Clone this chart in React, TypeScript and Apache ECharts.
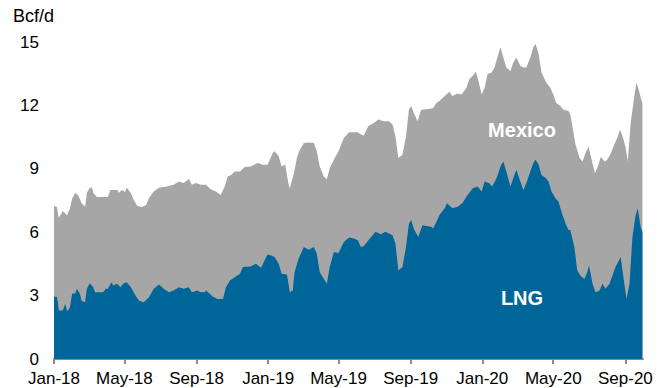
import React, { useEffect, useRef } from "react";
import * as echarts from "echarts";

// Total pipeline exports to Mexico + LNG feedgas (top of gray area), Bcf/d
const totalExports: [string, number][] = [
  ["2018-01-01", 7.24], ["2018-01-06", 7.2], ["2018-01-09", 6.67], ["2018-01-16", 7.0],
  ["2018-01-23", 6.8], ["2018-01-28", 7.1], ["2018-02-01", 7.6], ["2018-02-06", 7.86],
  ["2018-02-11", 7.76], ["2018-02-17", 7.38], ["2018-02-23", 7.2], ["2018-02-26", 7.86],
  ["2018-03-03", 8.1], ["2018-03-07", 8.1], ["2018-03-09", 7.86], ["2018-03-15", 7.67],
  ["2018-04-03", 7.67], ["2018-04-07", 8.0], ["2018-04-19", 8.0], ["2018-04-21", 7.87],
  ["2018-04-27", 8.0], ["2018-05-02", 7.9], ["2018-05-05", 8.1], ["2018-05-12", 7.86],
  ["2018-05-17", 7.52], ["2018-05-23", 7.24], ["2018-05-31", 7.19], ["2018-06-07", 7.29],
  ["2018-06-12", 7.62], ["2018-06-20", 7.92], ["2018-06-29", 8.1], ["2018-07-12", 8.16],
  ["2018-07-24", 8.24], ["2018-08-02", 8.4], ["2018-08-10", 8.33], ["2018-08-19", 8.52],
  ["2018-08-24", 8.24], ["2018-08-31", 8.33], ["2018-09-08", 8.24], ["2018-09-17", 8.24],
  ["2018-09-20", 8.16], ["2018-09-25", 8.03], ["2018-10-04", 7.92], ["2018-10-12", 7.76],
  ["2018-10-19", 8.16], ["2018-10-24", 8.63], ["2018-10-30", 8.71], ["2018-11-05", 8.87],
  ["2018-11-14", 8.87], ["2018-11-22", 9.08], ["2018-12-02", 9.11], ["2018-12-14", 9.27],
  ["2018-12-23", 9.19], ["2018-12-31", 9.19], ["2019-01-04", 9.43], ["2019-01-09", 9.76],
  ["2019-01-12", 9.83], ["2019-01-19", 9.59], ["2019-01-24", 9.11], ["2019-01-30", 9.19],
  ["2019-02-05", 8.24], ["2019-02-07", 8.08], ["2019-02-14", 8.79], ["2019-02-19", 9.51],
  ["2019-02-24", 9.9], ["2019-03-03", 10.22], ["2019-03-11", 10.25], ["2019-03-20", 10.22],
  ["2019-03-25", 9.83], ["2019-03-30", 9.11], ["2019-04-06", 8.63], ["2019-04-11", 8.51],
  ["2019-04-16", 9.03], ["2019-04-23", 9.43], ["2019-05-01", 9.83], ["2019-05-10", 10.46],
  ["2019-05-19", 10.73], ["2019-06-03", 10.73], ["2019-06-08", 10.62], ["2019-06-13", 10.57],
  ["2019-06-21", 11.02], ["2019-06-30", 11.17], ["2019-07-08", 11.33], ["2019-07-17", 11.25],
  ["2019-07-26", 11.25], ["2019-08-01", 11.1], ["2019-08-06", 10.54], ["2019-08-11", 9.51],
  ["2019-08-18", 9.67], ["2019-08-24", 10.54], ["2019-08-29", 11.81], ["2019-09-02", 11.97],
  ["2019-09-06", 11.65], ["2019-09-13", 11.25], ["2019-09-18", 11.73], ["2019-09-21", 11.81],
  ["2019-09-25", 11.81], ["2019-10-09", 11.86], ["2019-10-15", 12.13], ["2019-10-20", 12.21],
  ["2019-10-29", 12.44], ["2019-11-06", 12.65], ["2019-11-11", 12.44], ["2019-11-20", 12.56],
  ["2019-11-27", 12.52], ["2019-12-05", 12.84], ["2019-12-10", 13.24], ["2019-12-16", 13.4],
  ["2019-12-21", 13.6], ["2019-12-24", 13.32], ["2019-12-31", 12.52], ["2020-01-05", 12.84],
  ["2020-01-10", 13.48], ["2020-01-17", 13.56], ["2020-01-22", 13.79], ["2020-01-26", 14.19],
  ["2020-02-01", 14.75], ["2020-02-06", 14.27], ["2020-02-11", 13.79], ["2020-02-18", 13.63],
  ["2020-02-23", 14.03], ["2020-02-28", 14.27], ["2020-03-06", 13.87], ["2020-03-11", 13.79],
  ["2020-03-16", 13.79], ["2020-03-23", 14.27], ["2020-03-28", 14.75], ["2020-04-01", 14.9],
  ["2020-04-06", 14.43], ["2020-04-11", 13.56], ["2020-04-19", 13.08], ["2020-04-26", 12.84],
  ["2020-05-01", 12.52], ["2020-05-06", 12.13], ["2020-05-13", 11.97], ["2020-05-18", 11.81],
  ["2020-05-27", 11.73], ["2020-05-30", 11.57], ["2020-06-03", 10.94], ["2020-06-08", 10.14],
  ["2020-06-15", 9.51], ["2020-06-20", 9.35], ["2020-06-25", 9.75], ["2020-06-30", 10.03],
  ["2020-07-04", 9.59], ["2020-07-11", 8.79], ["2020-07-16", 9.11], ["2020-07-21", 9.56],
  ["2020-07-28", 9.35], ["2020-08-01", 9.43], ["2020-08-06", 9.67], ["2020-08-13", 10.14],
  ["2020-08-18", 10.46], ["2020-08-23", 10.86], ["2020-08-28", 10.46], ["2020-09-01", 10.06],
  ["2020-09-05", 9.35], ["2020-09-10", 11.17], ["2020-09-17", 12.6], ["2020-09-20", 13.08],
  ["2020-09-25", 12.6], ["2020-09-30", 12.1],
];

// LNG feedgas (blue area), Bcf/d
const lngFeedgas: [string, number][] = [
  ["2018-01-01", 2.95], ["2018-01-06", 2.95], ["2018-01-08", 2.6], ["2018-01-09", 2.29],
  ["2018-01-16", 2.29], ["2018-01-20", 2.6], ["2018-01-23", 2.29], ["2018-01-25", 2.29],
  ["2018-01-28", 2.44], ["2018-02-01", 3.1], ["2018-02-06", 3.1], ["2018-02-09", 3.33],
  ["2018-02-14", 3.1], ["2018-02-17", 2.76], ["2018-02-23", 2.68], ["2018-02-26", 3.33],
  ["2018-03-03", 3.59], ["2018-03-09", 3.4], ["2018-03-12", 3.16], ["2018-03-26", 3.16],
  ["2018-03-30", 3.33], ["2018-04-03", 3.33], ["2018-04-09", 3.63], ["2018-04-12", 3.48],
  ["2018-04-19", 3.56], ["2018-04-24", 3.4], ["2018-04-30", 3.59], ["2018-05-05", 3.63],
  ["2018-05-12", 3.4], ["2018-05-20", 3.0], ["2018-05-26", 2.76], ["2018-06-03", 2.68],
  ["2018-06-12", 2.92], ["2018-06-20", 3.33], ["2018-06-29", 3.52], ["2018-07-07", 3.33],
  ["2018-07-16", 3.16], ["2018-07-24", 3.24], ["2018-08-02", 3.4], ["2018-08-10", 3.33],
  ["2018-08-19", 3.4], ["2018-08-24", 3.16], ["2018-09-02", 3.24], ["2018-09-08", 3.16],
  ["2018-09-15", 3.16], ["2018-09-17", 3.24], ["2018-09-24", 3.08], ["2018-09-29", 2.95],
  ["2018-10-07", 2.84], ["2018-10-16", 2.84], ["2018-10-21", 3.4], ["2018-10-28", 3.71],
  ["2018-11-05", 3.87], ["2018-11-14", 4.03], ["2018-11-19", 4.35], ["2018-12-02", 4.38],
  ["2018-12-11", 4.51], ["2018-12-20", 4.32], ["2018-12-26", 4.67], ["2018-12-31", 4.95],
  ["2019-01-06", 4.9], ["2019-01-12", 4.83], ["2019-01-19", 4.51], ["2019-01-24", 4.03],
  ["2019-02-02", 4.0], ["2019-02-07", 3.16], ["2019-02-12", 3.24], ["2019-02-15", 4.11],
  ["2019-02-22", 4.75], ["2019-03-03", 5.3], ["2019-03-11", 5.17], ["2019-03-20", 5.3],
  ["2019-03-25", 4.98], ["2019-03-30", 4.11], ["2019-04-06", 3.79], ["2019-04-11", 3.56],
  ["2019-04-16", 4.35], ["2019-04-23", 5.06], ["2019-05-01", 5.01], ["2019-05-10", 5.54],
  ["2019-05-19", 5.75], ["2019-05-27", 5.7], ["2019-06-03", 5.62], ["2019-06-08", 5.3],
  ["2019-06-13", 5.33], ["2019-06-21", 5.62], ["2019-07-03", 6.02], ["2019-07-12", 5.9],
  ["2019-07-20", 6.02], ["2019-08-01", 5.86], ["2019-08-06", 5.46], ["2019-08-11", 4.19],
  ["2019-08-18", 4.35], ["2019-08-24", 5.3], ["2019-08-29", 6.41], ["2019-09-02", 6.57],
  ["2019-09-07", 6.1], ["2019-09-14", 5.78], ["2019-09-21", 6.33], ["2019-10-07", 6.25],
  ["2019-10-09", 6.17], ["2019-10-15", 6.49], ["2019-10-20", 6.81], ["2019-10-29", 7.13],
  ["2019-11-02", 7.37], ["2019-11-11", 7.13], ["2019-11-20", 7.21], ["2019-11-28", 7.37],
  ["2019-12-07", 7.76], ["2019-12-16", 8.08], ["2019-12-24", 8.16], ["2019-12-31", 7.92],
  ["2020-01-05", 8.4], ["2020-01-13", 8.32], ["2020-01-18", 8.16], ["2020-01-26", 8.6],
  ["2020-02-01", 9.11], ["2020-02-06", 9.35], ["2020-02-11", 8.87], ["2020-02-18", 8.16],
  ["2020-02-23", 8.56], ["2020-02-28", 8.95], ["2020-03-06", 8.4], ["2020-03-11", 8.0],
  ["2020-03-16", 8.32], ["2020-03-23", 8.87], ["2020-03-28", 9.27], ["2020-04-01", 9.43],
  ["2020-04-06", 9.19], ["2020-04-11", 8.71], ["2020-04-18", 8.56], ["2020-04-23", 8.4],
  ["2020-04-28", 7.92], ["2020-05-05", 7.6], ["2020-05-10", 7.44], ["2020-05-15", 6.97],
  ["2020-05-22", 6.41], ["2020-05-27", 6.1], ["2020-05-30", 6.1], ["2020-06-06", 5.3],
  ["2020-06-11", 4.19], ["2020-06-16", 3.95], ["2020-06-23", 3.79], ["2020-06-28", 4.11],
  ["2020-07-01", 4.43], ["2020-07-07", 3.56], ["2020-07-12", 3.16], ["2020-07-19", 3.24],
  ["2020-07-24", 3.56], ["2020-07-29", 3.32], ["2020-08-05", 3.56], ["2020-08-10", 3.95],
  ["2020-08-15", 4.35], ["2020-08-24", 4.83], ["2020-08-27", 4.19], ["2020-08-31", 3.4],
  ["2020-09-03", 2.84], ["2020-09-08", 3.56], ["2020-09-13", 5.78], ["2020-09-18", 6.73],
  ["2020-09-22", 7.13], ["2020-09-27", 6.25], ["2020-09-30", 6.0],
];

const tickMonths: string[] = [
  "2018-01-01", "2018-05-01", "2018-09-01", "2019-01-01", "2019-05-01",
  "2019-09-01", "2020-01-01", "2020-05-01", "2020-09-01",
];
const axisStart = "2018-01-01";
const axisEnd = "2020-10-01";
const monthNames = ["Jan", "Feb", "Mar", "Apr", "May", "Jun", "Jul", "Aug", "Sep", "Oct", "Nov", "Dec"];

const FONT = "Arial, 'Liberation Sans', sans-serif";
const ts = (s: string) => Date.parse(s + "T00:00:00Z");

export default function App() {
  const ref = useRef<HTMLDivElement>(null);
  useEffect(() => {
    if (!ref.current) return;
    const chart = echarts.init(ref.current, null, { renderer: "svg" });
    const tickVals = tickMonths.map(ts);
    chart.setOption({
      animation: false,
      backgroundColor: "#ffffff",
      grid: { left: 54, right: 29, top: 42, bottom: 29, containLabel: false },
      xAxis: {
        type: "value",
        min: ts(axisStart),
        max: ts(axisEnd),
        axisLine: { show: true, lineStyle: { color: "#8c8c8c", width: 2 } },
        axisTick: { show: true, customValues: tickVals, length: 5, lineStyle: { color: "#8c8c8c", width: 2 } },
        axisLabel: {
          customValues: tickVals,
          formatter: (v: number) => {
            const d = new Date(v);
            return monthNames[d.getUTCMonth()] + "-" + String(d.getUTCFullYear()).slice(2);
          },
          color: "#000",
          fontSize: 17,
          lineHeight: 17,
          fontFamily: FONT,
          margin: 11,
          showMinLabel: true,
          showMaxLabel: true,
        },
        splitLine: { show: false },
      },
      yAxis: {
        type: "value",
        min: 0,
        max: 15,
        interval: 3,
        axisLine: { show: false },
        axisTick: { show: false },
        splitLine: { show: false },
        axisLabel: {
          color: "#000",
          fontSize: 17,
          lineHeight: 17,
          fontFamily: FONT,
          margin: 15,
          padding: [0, 0, 2, 0],
        },
      },
      series: [
        {
          name: "Mexico",
          type: "line",
          data: totalExports.map(([d, v]) => [ts(d), v]),
          showSymbol: false,
          lineStyle: { width: 0 },
          areaStyle: { color: "#a6a6a6", opacity: 1 },
          itemStyle: { color: "#a6a6a6" },
          z: 1,
        },
        {
          name: "LNG",
          type: "line",
          data: lngFeedgas.map(([d, v]) => [ts(d), v]),
          showSymbol: false,
          lineStyle: { width: 0 },
          areaStyle: { color: "#006699", opacity: 1 },
          itemStyle: { color: "#006699" },
          z: 2,
        },
      ],
      graphic: [
        {
          type: "text",
          left: 13,
          top: 7,
          style: { text: "Bcf/d", fontSize: 18, fontFamily: FONT, fill: "#000" },
        },
        {
          type: "text",
          x: 522,
          y: 130,
          z: 10,
          style: {
            text: "Mexico",
            fontSize: 20,
            fontWeight: "bold",
            fontFamily: FONT,
            fill: "#ffffff",
            align: "center",
            verticalAlign: "middle",
          },
        },
        {
          type: "text",
          x: 522,
          y: 298,
          z: 10,
          style: {
            text: "LNG",
            fontSize: 20,
            fontWeight: "bold",
            fontFamily: FONT,
            fill: "#ffffff",
            align: "center",
            verticalAlign: "middle",
          },
        },
      ],
    });
    return () => chart.dispose();
  }, []);
  return <div ref={ref} style={{ width: 672, height: 388, position: "absolute", left: 0, top: 0 }} />;
}
